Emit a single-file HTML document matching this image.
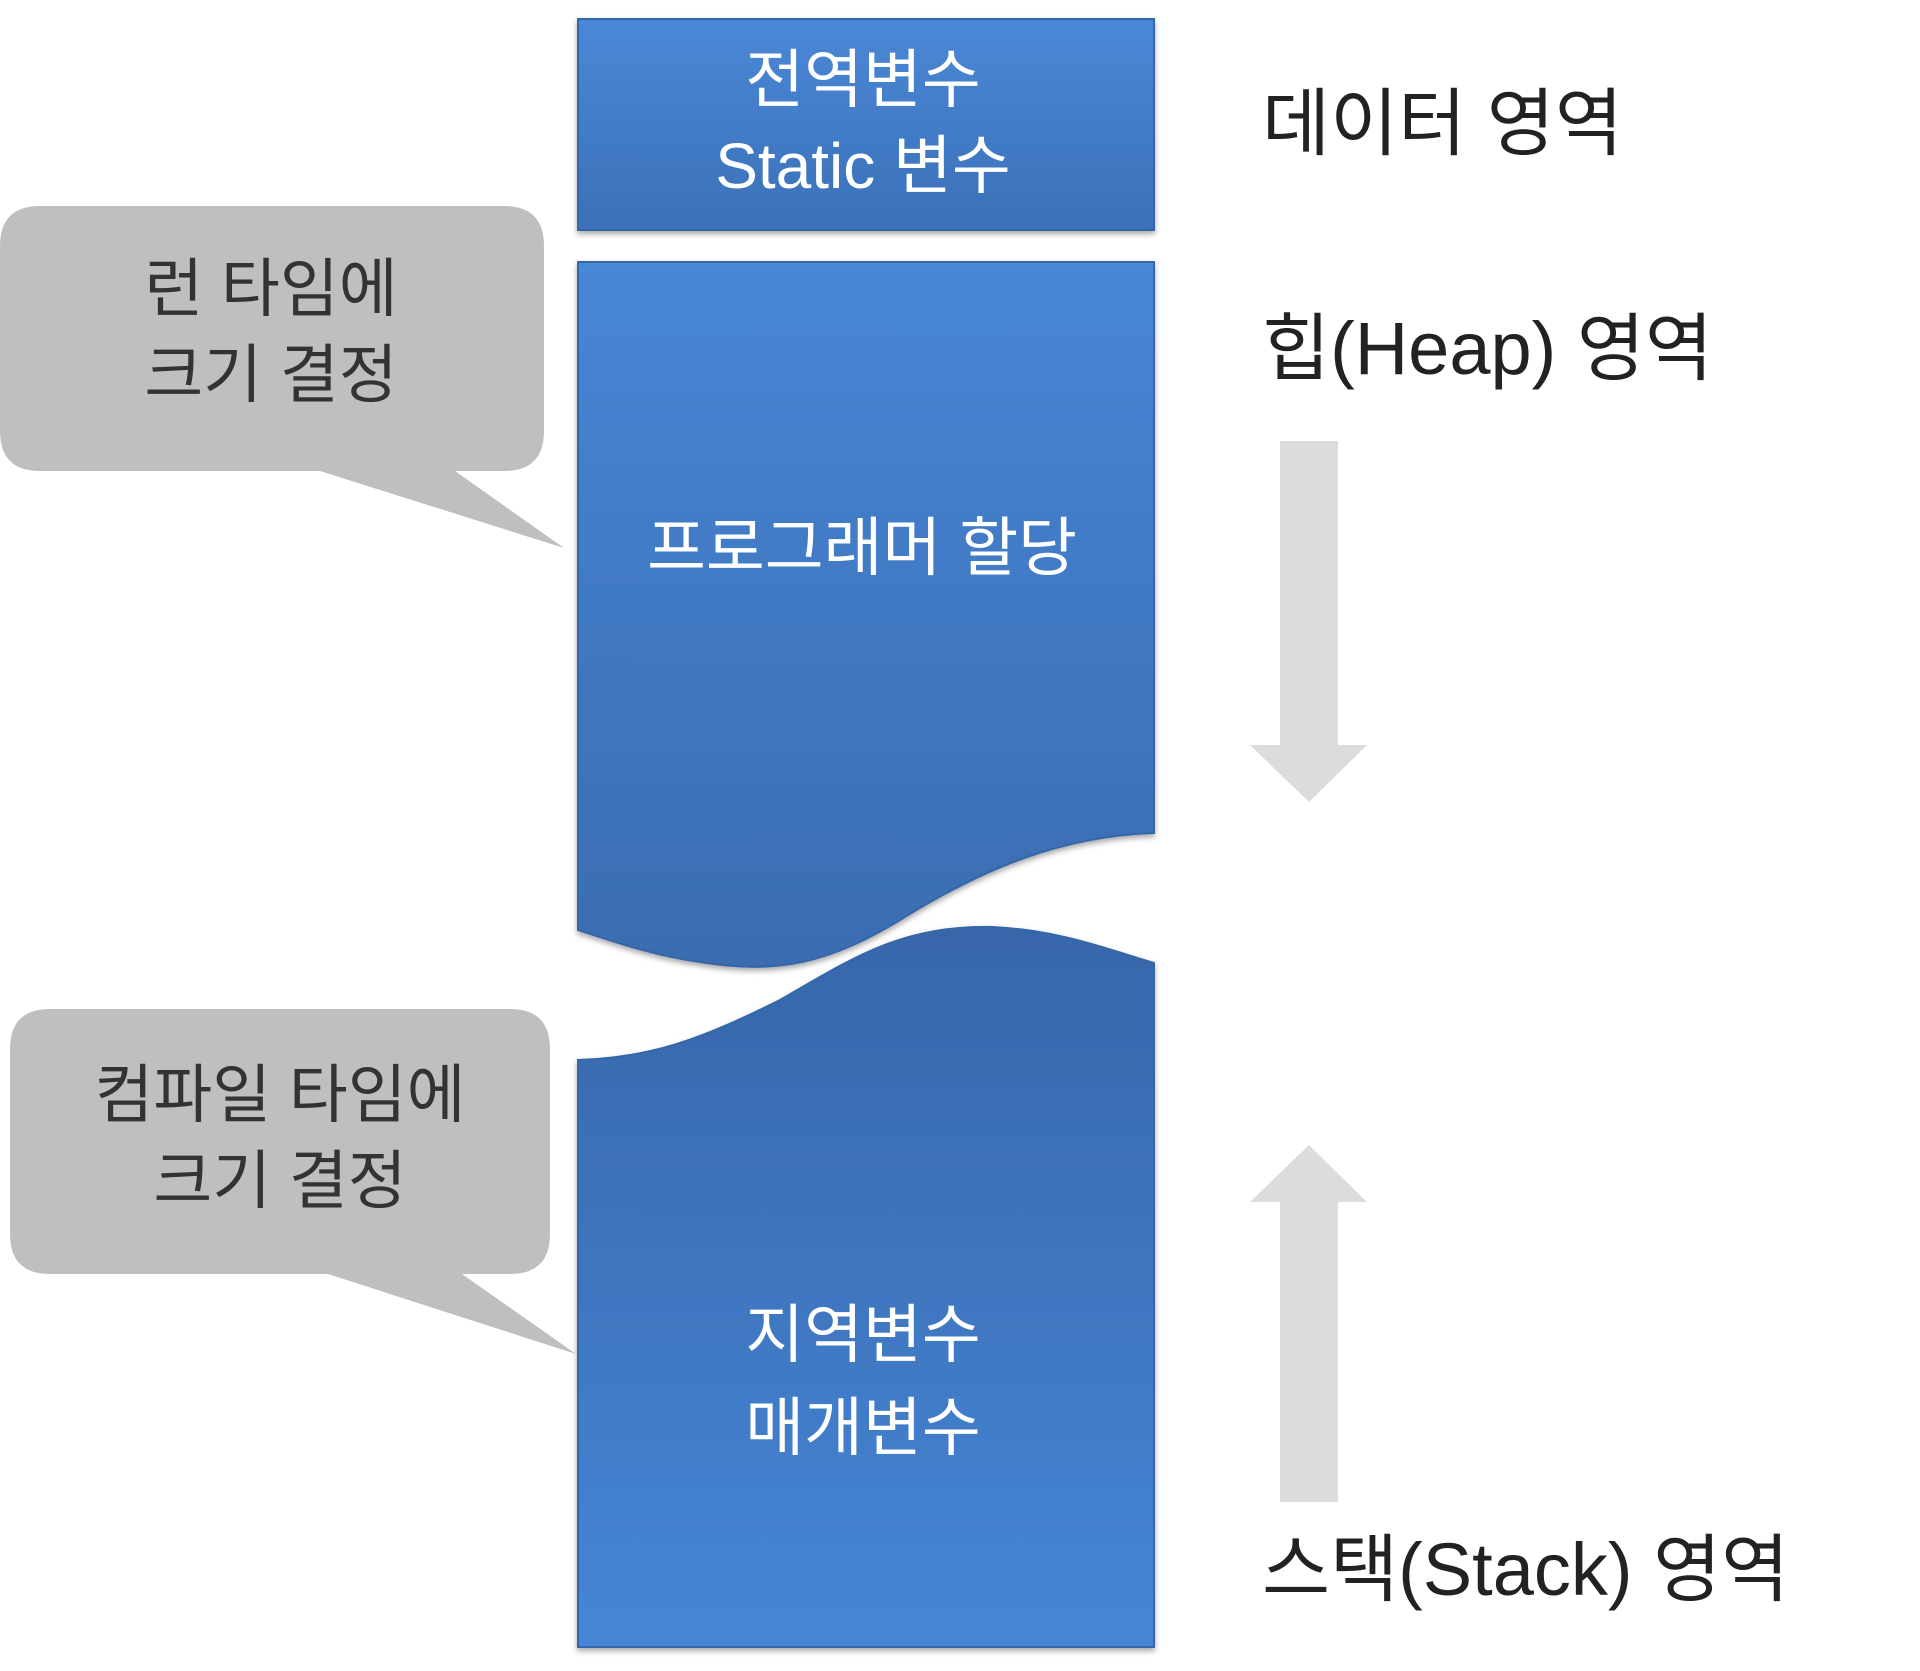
<!DOCTYPE html>
<html><head><meta charset="utf-8"><style>
html,body{margin:0;padding:0;background:#fff;}
svg{display:block;}
text{font-family:"Liberation Sans","Noto Sans CJK KR","NanumGothic",sans-serif;}
</style></head><body>
<svg width="1920" height="1671" viewBox="0 0 1920 1671" xmlns="http://www.w3.org/2000/svg">
<defs>
<linearGradient id="g1" x1="0" y1="0" x2="0" y2="1">
<stop offset="0" stop-color="#4a88d6"/><stop offset="1" stop-color="#3b70b8"/></linearGradient>
<linearGradient id="g2" x1="0" y1="0" x2="0" y2="1">
<stop offset="0" stop-color="#4886d6"/><stop offset="1" stop-color="#3a6cb0"/></linearGradient>
<linearGradient id="g3" x1="0" y1="0" x2="0" y2="1">
<stop offset="0" stop-color="#3766aa"/><stop offset="1" stop-color="#4686d6"/></linearGradient>
<filter id="sh" x="-5%" y="-5%" width="110%" height="110%"><feDropShadow dx="0" dy="3" stdDeviation="3" flood-color="#000" flood-opacity="0.35"/></filter>
</defs>
<!-- data box -->
<rect x="578" y="19" width="576" height="211" fill="url(#g1)" stroke="#3566a8" stroke-width="2" filter="url(#sh)"/>
<!-- heap -->
<path d="M578 262 H1154 V833 C1060 836 980 870 900 920 C830 962 780 975 700 962 C650 955 610 940 578 930 Z" fill="url(#g2)" stroke="#3566a8" stroke-width="2" filter="url(#sh)"/>
<!-- stack -->
<path d="M578 1060 C650 1058 700 1040 780 1000 C850 960 900 925 992 927 C1060 930 1110 950 1154 963 V1647 H578 Z" fill="url(#g3)" stroke="#3566a8" stroke-width="2" filter="url(#sh)"/>
<!-- callouts -->
<path d="M40 206 H504 Q544 206 544 246 V431 Q544 471 504 471 H455 L564 548 L320 471 H40 Q0 471 0 431 V246 Q0 206 40 206 Z" fill="#bfbfbf"/>
<path d="M50 1009 H510 Q550 1009 550 1049 V1234 Q550 1274 510 1274 H462 L576 1354 L328 1274 H50 Q10 1274 10 1234 V1049 Q10 1009 50 1009 Z" fill="#bfbfbf"/>
<!-- arrows -->
<polygon points="1280,441 1338,441 1338,745 1367,745 1309,802 1250,745 1280,745" fill="#dcdcdc"/>
<polygon points="1309,1145 1367,1202 1338,1202 1338,1502 1280,1502 1280,1202 1250,1202" fill="#dcdcdc"/>
<!-- box text -->
<g fill="#fff" font-size="64" text-anchor="middle">
<text x="863" y="102">전역변수</text>
<text x="863" y="188">Static 변수</text>
<text x="862" y="570">프로그래머 할당</text>
<text x="863" y="1357">지역변수</text>
<text x="863" y="1450">매개변수</text>
</g>
<g fill="#333" font-size="64" text-anchor="middle">
<text x="271" y="311">런 타임에</text>
<text x="271" y="397">크기 결정</text>
<text x="280" y="1117">컴파일 타임에</text>
<text x="280" y="1203">크기 결정</text>
</g>
<g fill="#222" font-size="74">
<text x="1262" y="149">데이터 영역</text>
<text x="1262" y="374">힙(Heap) 영역</text>
<text x="1262" y="1595">스택(Stack) 영역</text>
</g>
</svg>
</body></html>
